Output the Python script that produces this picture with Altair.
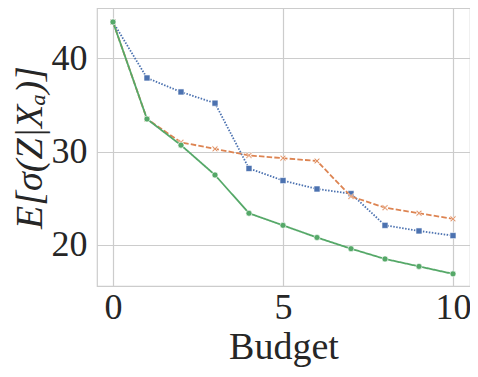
import altair as alt
import pandas as pd

budget = list(range(11))
series_names = ["Method A", "Method B", "Method C"]
values_a = [43.9, 37.9, 36.4, 35.2, 28.2, 26.9, 26.0, 25.5, 22.1, 21.5, 21.0]  # blue dotted, squares
values_b = [43.9, 33.5, 31.0, 30.3, 29.6, 29.3, 29.0, 25.2, 24.0, 23.4, 22.8]  # orange dashed, x
values_c = [43.9, 33.5, 30.7, 27.5, 23.4, 22.1, 20.8, 19.6, 18.5, 17.7, 16.9]  # green solid, circles

colors = ["#4c72b0", "#dd8452", "#55a868"]
dashes = [[1.5, 1.5], [5.5, 2.2], [1, 0]]
x_path = "M-1,-0.7 L-0.7,-1 L0,-0.3 L0.7,-1 L1,-0.7 L0.3,0 L1,0.7 L0.7,1 L0,0.3 L-0.7,1 L-1,0.7 L-0.3,0 Z"
shapes = ["square", x_path, "circle"]

rows = []
for name, vals in zip(series_names, [values_a, values_b, values_c]):
    for b, v in zip(budget, vals):
        rows.append({"Budget": b, "value": v, "series": name})
df = pd.DataFrame(rows)

font = "Liberation Serif"
x = alt.X("Budget:Q", scale=alt.Scale(domain=[-0.47, 10.5], nice=False, zero=False),
          axis=alt.Axis(values=[0, 5, 10], title="Budget", format="d",
                        labelPadding=4, titlePadding=3, titleFontSize=38))
y = alt.Y("value:Q", scale=alt.Scale(domain=[15.6, 45.4], nice=False, zero=False),
          axis=alt.Axis(values=[20, 30, 40], title="E[σ(Z|Xₐ)]", titleFontStyle="italic",
                        titleFontSize=38, labelPadding=10, titlePadding=2))
color = alt.Color("series:N", scale=alt.Scale(domain=series_names, range=colors), legend=None)

lines = alt.Chart(df).mark_line(strokeWidth=1.8).encode(
    x=x, y=y, color=color,
    strokeDash=alt.StrokeDash("series:N", scale=alt.Scale(domain=series_names, range=dashes), legend=None),
    order="Budget:Q",
)
points = alt.Chart(df).mark_point(filled=True, stroke="white", strokeWidth=0.6, opacity=1).encode(
    x=x, y=y,
    fill=alt.Fill("series:N", scale=alt.Scale(domain=series_names, range=colors), legend=None),
    shape=alt.Shape("series:N", scale=alt.Scale(domain=series_names, range=shapes), legend=None),
    size=alt.value(36),
)

layers = []
for name in series_names:
    layers.append(lines.transform_filter(alt.datum.series == name))
    layers.append(points.transform_filter(alt.datum.series == name))

chart = alt.layer(*layers).properties(
    width=373, height=278,
    autosize=alt.AutoSizeParams(type="none"),
    padding={"left": 89, "top": 0, "right": 0, "bottom": 84},
).configure_view(
    stroke="#cccccc", strokeWidth=1.2,
).configure_axis(
    grid=True, gridColor="#cccccc", gridWidth=1.2,
    domain=False, ticks=False,
    labelFont=font, labelFontSize=36, labelColor="#262626",
    titleFont=font, titleColor="#262626", titleFontWeight="normal",
)

chart.save("out.html", embed_options={"renderer": "svg", "actions": False})
